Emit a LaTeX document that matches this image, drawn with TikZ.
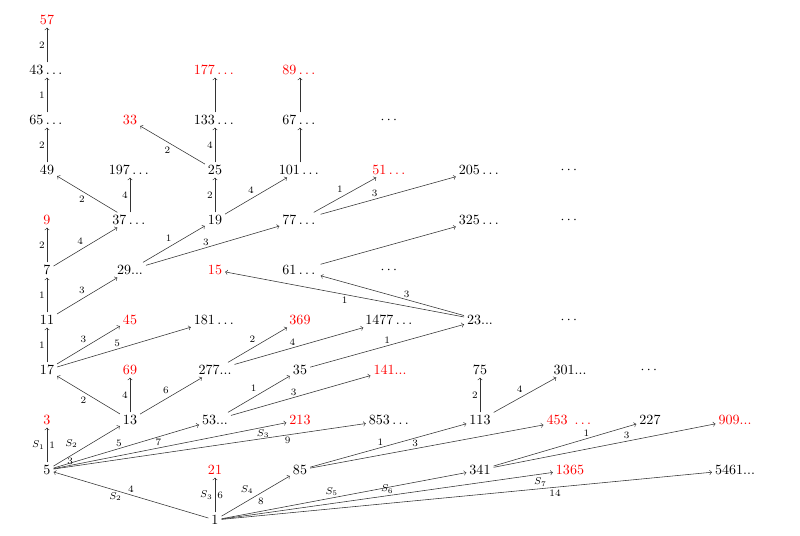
\documentclass[tikz,border=0pt]{standalone}
\usepackage{amsmath, amssymb}
\usetikzlibrary{positioning}
\begin{document}
\begin{tikzpicture}[
        >=to,
        % Styles
        num/.style={% For the numbers
            inner sep=2pt,
            },
        odd/.style={% For the red numbers
            num,
            red,
            },
        lbl/.style={% For small labels on arrows
            font=\scriptsize,
            inner sep=1.5pt,
            },
        ArrowA/.style={% Plain arrows
            ->,
            draw=black!80,
            thin,
            },
        ]
    \useasboundingbox (0,0) rectangle (20,-13.4);

    % Nodes
        % Column 0
        \node [odd] (n57) at (1.175,-0.5) {$57$};
        \node [num] (n43) at (1.175,-1.75) {$43\dots$};
        \node [num] (n65) at (1.175,-3) {$65\dots$};
        \node [num] (n49) at (1.175,-4.25) {$49$};
        \node [odd] (n9) at (1.175,-5.5) {$9$};
        \node [num] (n7) at (1.175,-6.75) {$7$};
        \node [num] (n11) at (1.175,-8) {$11$};
        \node [num] (n17) at (1.175,-9.25) {$17$};
        \node [odd] (n3) at (1.175,-10.5) {$3$};
        \node [num] (n5) at (1.175,-11.75) {$5$};
        % Column 1
        \node [odd] (n33) at (3.25,-3) {$33$};
        \node [num] (n197) at (3.25,-4.25) {$197\dots$};
        \node [num] (n37) at (3.25,-5.5) {$37\dots$};
        \node [num] (n29) at (3.25,-6.75) {$29$...};
        \node [odd] (n45) at (3.25,-8) {$45$};
        \node [odd] (n69) at (3.25,-9.25) {$69$};
        \node [num] (n13) at (3.25,-10.5) {$13$};
        % Column 2
        \node [odd] (n177) at (5.375,-1.75) {$177\dots$};
        \node [num] (n133) at (5.375,-3) {$133\dots$};
        \node [num] (n25) at (5.375,-4.25) {$25$};
        \node [num] (n19) at (5.375,-5.5) {$19$};
        \node [odd] (n15) at (5.375,-6.75) {$15$};
        \node [num] (n181) at (5.375,-8) {$181\dots$};
        \node [num] (n277) at (5.375,-9.25) {$277$...};
        \node [num] (n53) at (5.375,-10.5) {$53$...};
        \node [odd] (n21) at (5.375,-11.75) {$21$};
        \node [num] (n1) at (5.375,-13) {$1$};
        % Column 3
        \node [odd] (n89) at (7.5,-1.75) {$89\dots$};
        \node [num] (n67) at (7.5,-3) {$67\dots$};
        \node [num] (n101) at (7.5,-4.25) {$101\dots$};
        \node [num] (n77) at (7.5,-5.5) {$77\dots$};
        \node [num] (n61) at (7.5,-6.75) {$61\dots$};
        \node [odd] (n369) at (7.5,-8) {$369$};
        \node [num] (n35) at (7.5,-9.25) {$35$};
        \node [odd] (n213) at (7.5,-10.5) {$213$};
        \node [num] (n85) at (7.5,-11.75) {$85$};
        % Column 4
        \node [num] (d1) at (9.75,-3) {$\cdots$};
        \node [odd] (n51) at (9.75,-4.25) {$51\dots$};
        \node [num] (d2) at (9.75,-6.75) {$\cdots$};
        \node [num] (n1477) at (9.75,-8) {$1477\dots$};
        \node [odd] (n141) at (9.75,-9.25) {$141$...};
        \node [num] (n853) at (9.75,-10.5) {$853\dots$};
        % Column 5
        \node [num] (n205) at (12,-4.25) {$205\dots$};
        \node [num] (n325) at (12,-5.5) {$325\dots$};
        \node [num] (n23) at (12,-8) {$23$...};
        \node [num] (n75) at (12,-9.25) {$75$};
        \node [num] (n113) at (12,-10.5) {$113$};
        \node [num] (n341) at (12,-11.75) {$341$};
        % Columns 6 to 8
        \node [num] (d3) at (14.25,-4.25) {$\cdots$};
        \node [num] (d4) at (14.25,-5.5) {$\cdots$};
        \node [num] (d5) at (14.25,-8) {$\cdots$};
        \node [num] (n301) at (14.25,-9.25) {$301$...};
        \node [odd] (n453) at (14.25,-10.5) {$453\ \dots$};
        \node [odd] (n1365) at (14.25,-11.75) {$1365$};
        \node [num] (d6) at (16.25,-9.25) {$\cdots$};
        \node [num] (n227) at (16.25,-10.5) {$227$};
        \node [odd] (n909) at (18.375,-10.5) {$909$...};
        \node [num] (n5461) at (18.375,-11.75) {$5461$...};

    % Arrows from 1
        \draw [ArrowA] (n1) -- node[lbl, above] {$4$} node[lbl, below, pos=0.6] {$S_2$} (n5);
        \draw [ArrowA] (n1) -- node[lbl, left] {$S_3$} node[lbl, right] {$6$} (n21);
        \draw [ArrowA] (n1) -- node[lbl, above left] {$S_4$} node[lbl, below right] {$8$} (n85);
        \draw [ArrowA] (n1) -- node[lbl, above, pos=0.45] {$S_5$} (n341);
        \draw [ArrowA] (n1) -- node[lbl, above, pos=0.5] {$S_6$} (n1365);
        \draw [ArrowA] (n1) -- node[lbl, above, pos=0.65] {$S_7$} node[lbl, below, pos=0.68] {$14$} (n5461);
    % Arrows from 5
        \draw [ArrowA] (n5) -- node[lbl, left] {$S_1$} node[lbl, right] {$1$} (n3);
        \draw [ArrowA] (n5) -- node[lbl, above left, pos=0.4] {$S_2$} node[lbl, below, pos=0.25] {$3$} (n13);
        \draw [ArrowA] (n5) -- node[lbl, above, pos=0.45] {$5$} (n53);
        \draw [ArrowA] (n5) -- node[lbl, above, pos=0.45] {$7$} node[lbl, below, pos=0.9] {$S_3$} (n213);
        \draw [ArrowA] (n5) -- node[lbl, below, pos=0.75] {$9$} (n853);
    % Left part
        \draw [ArrowA] (n13) -- node[lbl, below left] {$2$} (n17);
        \draw [ArrowA] (n13) -- node[lbl, left] {$4$} (n69);
        \draw [ArrowA] (n13) -- node[lbl, above left] {$6$} (n277);
        \draw [ArrowA] (n17) -- node[lbl, left] {$1$} (n11);
        \draw [ArrowA] (n17) -- node[lbl, above left] {$3$} (n45);
        \draw [ArrowA] (n17) -- node[lbl, above, pos=0.45] {$5$} (n181);
        \draw [ArrowA] (n11) -- node[lbl, left] {$1$} (n7);
        \draw [ArrowA] (n11) -- node[lbl, above left] {$3$} (n29);
        \draw [ArrowA] (n7) -- node[lbl, left] {$2$} (n9);
        \draw [ArrowA] (n7) -- node[lbl, above left] {$4$} (n37);
        \draw [ArrowA] (n37) -- node[lbl, below left] {$2$} (n49);
        \draw [ArrowA] (n37) -- node[lbl, left] {$4$} (n197);
        \draw [ArrowA] (n49) -- node[lbl, left] {$2$} (n65);
        \draw [ArrowA] (n65) -- node[lbl, left] {$1$} (n43);
        \draw [ArrowA] (n43) -- node[lbl, left] {$2$} (n57);
    % Middle part
        \draw [ArrowA] (n29) -- node[lbl, above left] {$1$} (n19);
        \draw [ArrowA] (n29) -- node[lbl, above, pos=0.45] {$3$} (n77);
        \draw [ArrowA] (n19) -- node[lbl, left] {$2$} (n25);
        \draw [ArrowA] (n19) -- node[lbl, above left] {$4$} (n101);
        \draw [ArrowA] (n25) -- node[lbl, below left] {$2$} (n33);
        \draw [ArrowA] (n25) -- node[lbl, left] {$4$} (n133);
        \draw [ArrowA] (n133) -- (n177);
        \draw [ArrowA] (n101) -- (n67);
        \draw [ArrowA] (n67) -- (n89);
        \draw [ArrowA] (n77) -- node[lbl, above left] {$1$} (n51);
        \draw [ArrowA] (n77) -- node[lbl, above, pos=0.4] {$3$} (n205);
        \draw [ArrowA] (n61) -- (n325);
        \draw [ArrowA] (n23) -- node[lbl, below, pos=0.5] {$1$} (n15);
        \draw [ArrowA] (n23) -- node[lbl, above, pos=0.4] {$3$} (n61);
        \draw [ArrowA] (n277) -- node[lbl, above left] {$2$} (n369);
        \draw [ArrowA] (n277) -- node[lbl, above, pos=0.45] {$4$} (n1477);
        \draw [ArrowA] (n53) -- node[lbl, above left] {$1$} (n35);
        \draw [ArrowA] (n53) -- node[lbl, above, pos=0.45] {$3$} (n141);
        \draw [ArrowA] (n35) -- node[lbl, above, pos=0.5] {$1$} (n23);
    % Right part
        \draw [ArrowA] (n85) -- node[lbl, above, pos=0.45] {$1$} (n113);
        \draw [ArrowA] (n85) -- node[lbl, above, pos=0.45] {$3$} (n453);
        \draw [ArrowA] (n113) -- node[lbl, left] {$2$} (n75);
        \draw [ArrowA] (n113) -- node[lbl, above left] {$4$} (n301);
        \draw [ArrowA] (n341) -- node[lbl, above, pos=0.65] {$1$} (n227);
        \draw [ArrowA] (n341) -- node[lbl, above, pos=0.6] {$3$} (n909);
\end{tikzpicture}
\end{document}
